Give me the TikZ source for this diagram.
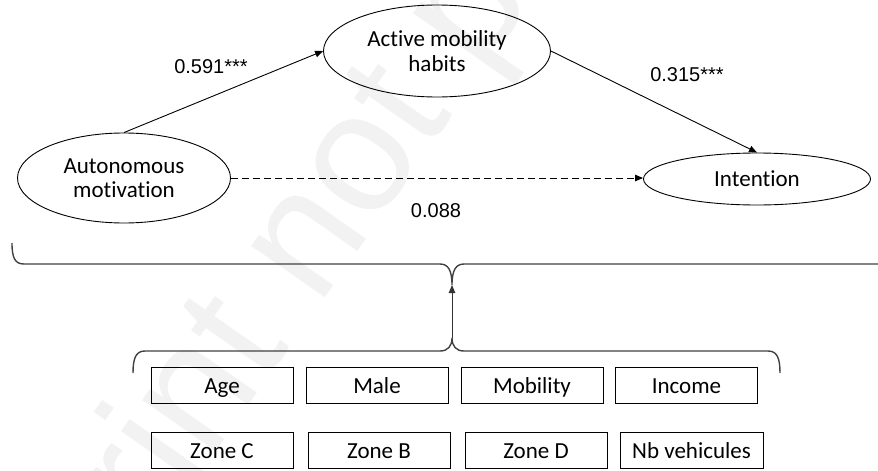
\documentclass[tikz,border=0pt]{standalone}
\usepackage{fontspec}
\setmainfont{Carlito}[RawFeature=-liga]
\newfontfamily\arialfont{Liberation Sans}
\usetikzlibrary{shapes.geometric,arrows.meta}
\begin{document}
\begin{tikzpicture}[x=1pt,y=-1pt,
 latent/.style={ellipse,draw,line width=0.9pt,inner sep=0pt,align=center,font=\fontsize{23}{24.5}\selectfont},
 covbox/.style={rectangle,draw,line width=0.9pt,minimum width=142pt,minimum height=36pt,inner sep=0pt,text height=19pt,text depth=3pt,font=\fontsize{23}{25}\selectfont},
 coef/.style={font=\arialfont\fontsize{20}{24}\selectfont,inner sep=0pt},
 arr/.style={line width=0.9pt,-{Triangle[length=8pt,width=6.5pt]}},
 bracestyle/.style={line width=1.4pt,draw=black!75},
 wmark/.style={rotate=55,text=black!5,font=\arialfont\fontsize{170}{170}\selectfont,inner sep=0pt}]
\useasboundingbox (0,0) rectangle (878,471);
\begin{scope}
\clip (0,0) rectangle (878,471);
\node[wmark] (wm) at (350,185) {\llap{Preprint }not\rlap{ peer reviewed}};
\end{scope}
% latent variables
\node[latent,minimum width=213pt,minimum height=90pt] (am) at (124,178) {Autonomous\\motivation};
\node[latent,minimum width=227pt,minimum height=92pt] (amh) at (437,51) {Active mobility\\habits};
\node[latent,minimum width=227pt,minimum height=52pt] (int) at (757,179) {Intention};
% paths
\draw[arr] (am.north) -- (amh.west);
\draw[arr] (amh.east) -- (int.north);
\draw[arr,dash pattern=on 7pt off 4pt] (am.east) -- (am.east -| int.west);
% coefficients
\node[coef] (c1) at (211,67) {0.591***};
\node[coef] (c2) at (687,75) {0.315***};
\node[coef] (c3) at (436,211) {0.088};
% braces
\coordinate (topcusp) at (452,285);
\coordinate (botcusp) at (452,338);
\draw[bracestyle] (12,243) .. controls (12,258) and (15,264) .. (24,264) -- (440,264)
  .. controls (448,264) and (452,270) .. (topcusp)
  .. controls (452,270) and (456,264) .. (464,264) -- (885,264);
\draw[bracestyle] (133,373) .. controls (133,358) and (136,351) .. (145,351) -- (440,351)
  .. controls (448,351) and (452,346) .. (botcusp)
  .. controls (452,346) and (456,351) .. (464,351) -- (768,351)
  .. controls (777,351) and (780,358) .. (780,373);
\draw[arr,draw=black!80] (botcusp) -- (topcusp);
% covariates
\node[covbox] (age) at (222,385) {Age};
\node[covbox] (male) at (377,385) {Male};
\node[covbox] (mob) at (532,385) {Mobility};
\node[covbox] (inc) at (686.5,385) {Income};
\node[covbox] (zc) at (222,450.5) {Zone C};
\node[covbox] (zb) at (379,450.5) {Zone B};
\node[covbox] (zd) at (536,450.5) {Zone D};
\node[covbox,minimum width=143pt] (nb) at (691.5,450.5) {Nb vehicules};
\end{tikzpicture}
\end{document}
